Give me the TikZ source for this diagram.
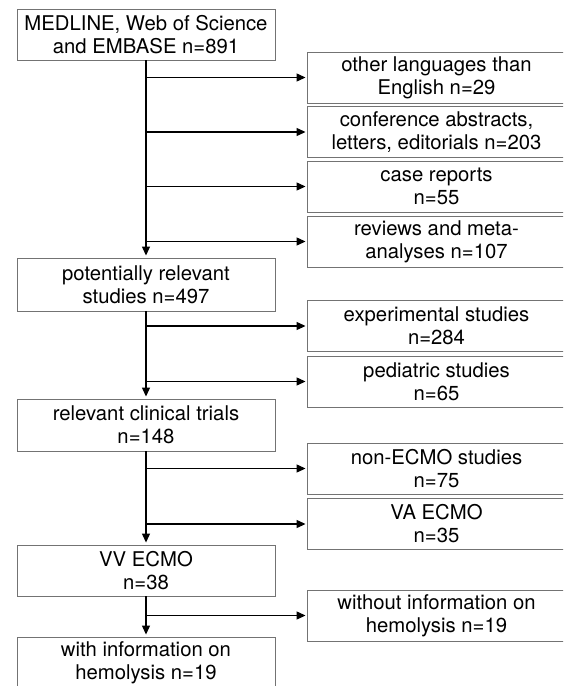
\documentclass[tikz,border=0pt]{standalone}
\usepackage{fontspec}
\setmainfont{TeX Gyre Heros}
\usetikzlibrary{arrows.meta}
\begin{document}
\begin{tikzpicture}[x=1pt,y=-1pt,
  box/.style={draw=black!55, line width=0.9pt, fill=white, align=center,
    inner sep=0pt, minimum height=51pt,
    font=\fontsize{20.3}{23}\selectfont},
  lbox/.style={box, minimum width=258pt},
  rbox/.style={box, minimum width=259pt},
  conn/.style={line width=1.2pt, black},
  arr/.style={conn, -{Triangle[length=9pt,width=8pt]}}
]
\useasboundingbox (0,0) rectangle (563,686);
\clip (0,0) rectangle (563,686);
% left column
\node[lbox] (top) at (146,34.5) {MEDLINE, Web of Science\\and EMBASE n=891};
\node[lbox, minimum height=53pt] (pr) at (146,284.5) {potentially relevant\\studies n=497};
\node[lbox, minimum height=52pt] (rct) at (146,425) {relevant clinical trials\\n=148};
\node[lbox] (vv) at (146,570.5) {VV ECMO\\n=38};
\node[lbox] (with) at (146,662.5) {with information on\\hemolysis n=19};
% right column
\node[rbox] (r1) at (436.5,77.5) {other languages than\\English n=29};
\node[rbox] (r2) at (436.5,132) {conference abstracts,\\letters, editorials n=203};
\node[rbox] (r3) at (436.5,186.5) {case reports\\n=55};
\node[rbox] (r4) at (436.5,241.5) {reviews and meta-\\analyses n=107};
\node[rbox] (r5) at (436.5,326) {experimental studies\\n=284};
\node[rbox] (r6) at (436.5,381.5) {pediatric studies\\n=65};
\node[rbox] (r7) at (436.5,468.5) {non-ECMO studies\\n=75};
\node[rbox] (r8) at (436.5,524) {VA ECMO\\n=35};
\node[rbox] (r9) at (436.5,615.5) {without information on\\hemolysis n=19};
% trunk
\draw[arr, shorten >=2pt] (top.south) -- (pr.north);
\draw[arr, shorten >=2pt] (pr.south) -- (rct.north);
\draw[arr, shorten >=2pt] (rct.south) -- (vv.north);
\draw[arr, shorten >=2pt] (vv.south) -- (with.north);
% branches
\foreach \r in {r1,r2,r3,r4,r5,r6,r7,r8,r9}{
  \coordinate (b\r) at (top.south |- \r.west);
  \draw[arr, shorten >=1pt] (b\r) -- (\r.west);
}
\end{tikzpicture}
\end{document}
